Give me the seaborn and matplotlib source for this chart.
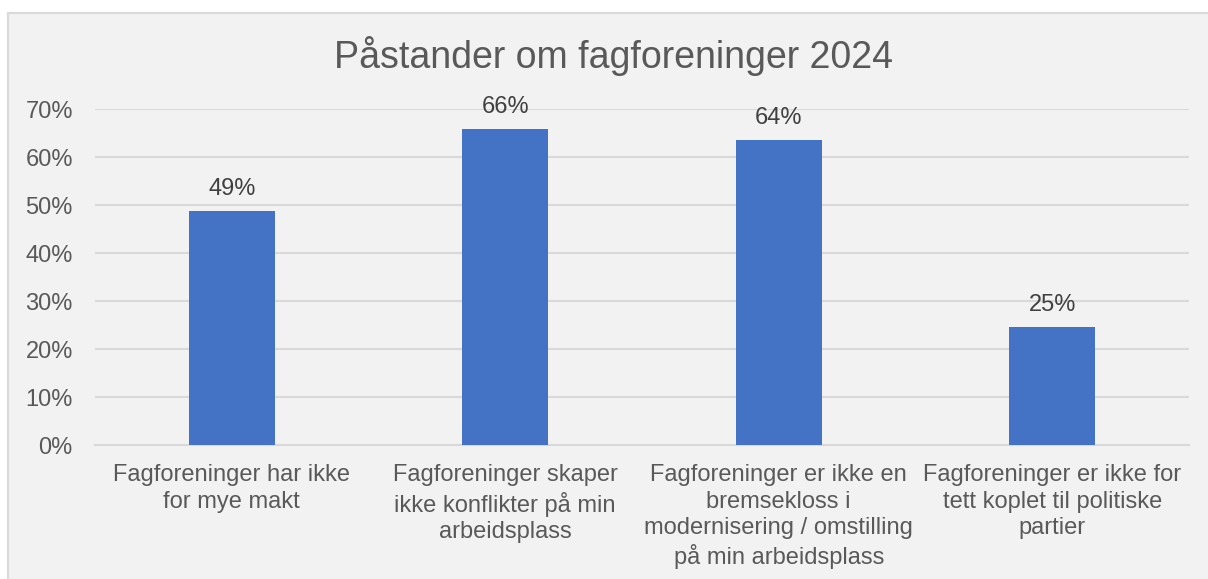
import matplotlib
matplotlib.use("Agg")
import matplotlib.pyplot as plt
import seaborn as sns
import pandas as pd
from matplotlib.patches import Rectangle

categories = [
    "Fagforeninger har ikke\nfor mye makt",
    "Fagforeninger skaper\nikke konflikter på min\narbeidsplass",
    "Fagforeninger er ikke en\nbremsekloss i\nmodernisering / omstilling\npå min arbeidsplass",
    "Fagforeninger er ikke for\ntett koplet til politiske\npartier",
]
values = [0.488, 0.659, 0.636, 0.245]
labels = ["49%", "66%", "64%", "25%"]
yticks = [0, 0.1, 0.2, 0.3, 0.4, 0.5, 0.6, 0.7]
ytick_labels = ["0%", "10%", "20%", "30%", "40%", "50%", "60%", "70%"]
title = "Påstander om fagforeninger 2024"

sns.set_theme(style="white")
plt.rcParams["font.family"] = ["Liberation Sans", "DejaVu Sans"]

W, H = 1208, 579
fig = plt.figure(figsize=(W / 100, H / 100), dpi=100, facecolor="white")

# chart area background with border
bg = Rectangle((8 / W, -0.05), 1.1, 1 - 13 / H + 0.05, transform=fig.transFigure,
               facecolor="#F2F2F2", edgecolor="#D9D9D9", linewidth=1.5, zorder=-10)
fig.patches.append(bg)

left, right = 95 / W, 1189 / W
bottom, top = (H - 445) / H, (H - 109) / H
ax = fig.add_axes([left, bottom, right - left, top - bottom])
ax.set_facecolor("none")

df = pd.DataFrame({"cat": categories, "val": values})
sns.barplot(data=df, x="cat", y="val", color="#4472C4", width=0.314,
            saturation=1, linewidth=0, ax=ax, zorder=3)

ax.set_xlim(-0.5, 3.5)
ax.set_ylim(0, 0.7)
ax.set_yticks(yticks)
ax.set_yticklabels(ytick_labels)
ax.yaxis.grid(True, color="#D9D9D9", linewidth=1.5, zorder=0)
ax.set_axisbelow(True)
for s in ["top", "right", "left"]:
    ax.spines[s].set_visible(False)
ax.spines["bottom"].set_color("#D9D9D9")
ax.spines["bottom"].set_linewidth(1.5)
ax.tick_params(axis="both", length=0, labelsize=17, labelcolor="#595959")
ax.tick_params(axis="y", pad=16)
ax.tick_params(axis="x", pad=14)
for t in ax.get_xticklabels():
    t.set_linespacing(1.26)
ax.set_xlabel("")
ax.set_ylabel("")

for i, (v, lab) in enumerate(zip(values, labels)):
    ax.annotate(lab, (i, v), xytext=(0, 16), textcoords="offset pixels",
                ha="center", va="baseline", fontsize=17, color="#404040")

fig.text(613 / W, 1 - 68 / H, title, ha="center", va="baseline",
         fontsize=27, color="#595959")

fig.savefig("out.png", dpi=100, facecolor="white")
